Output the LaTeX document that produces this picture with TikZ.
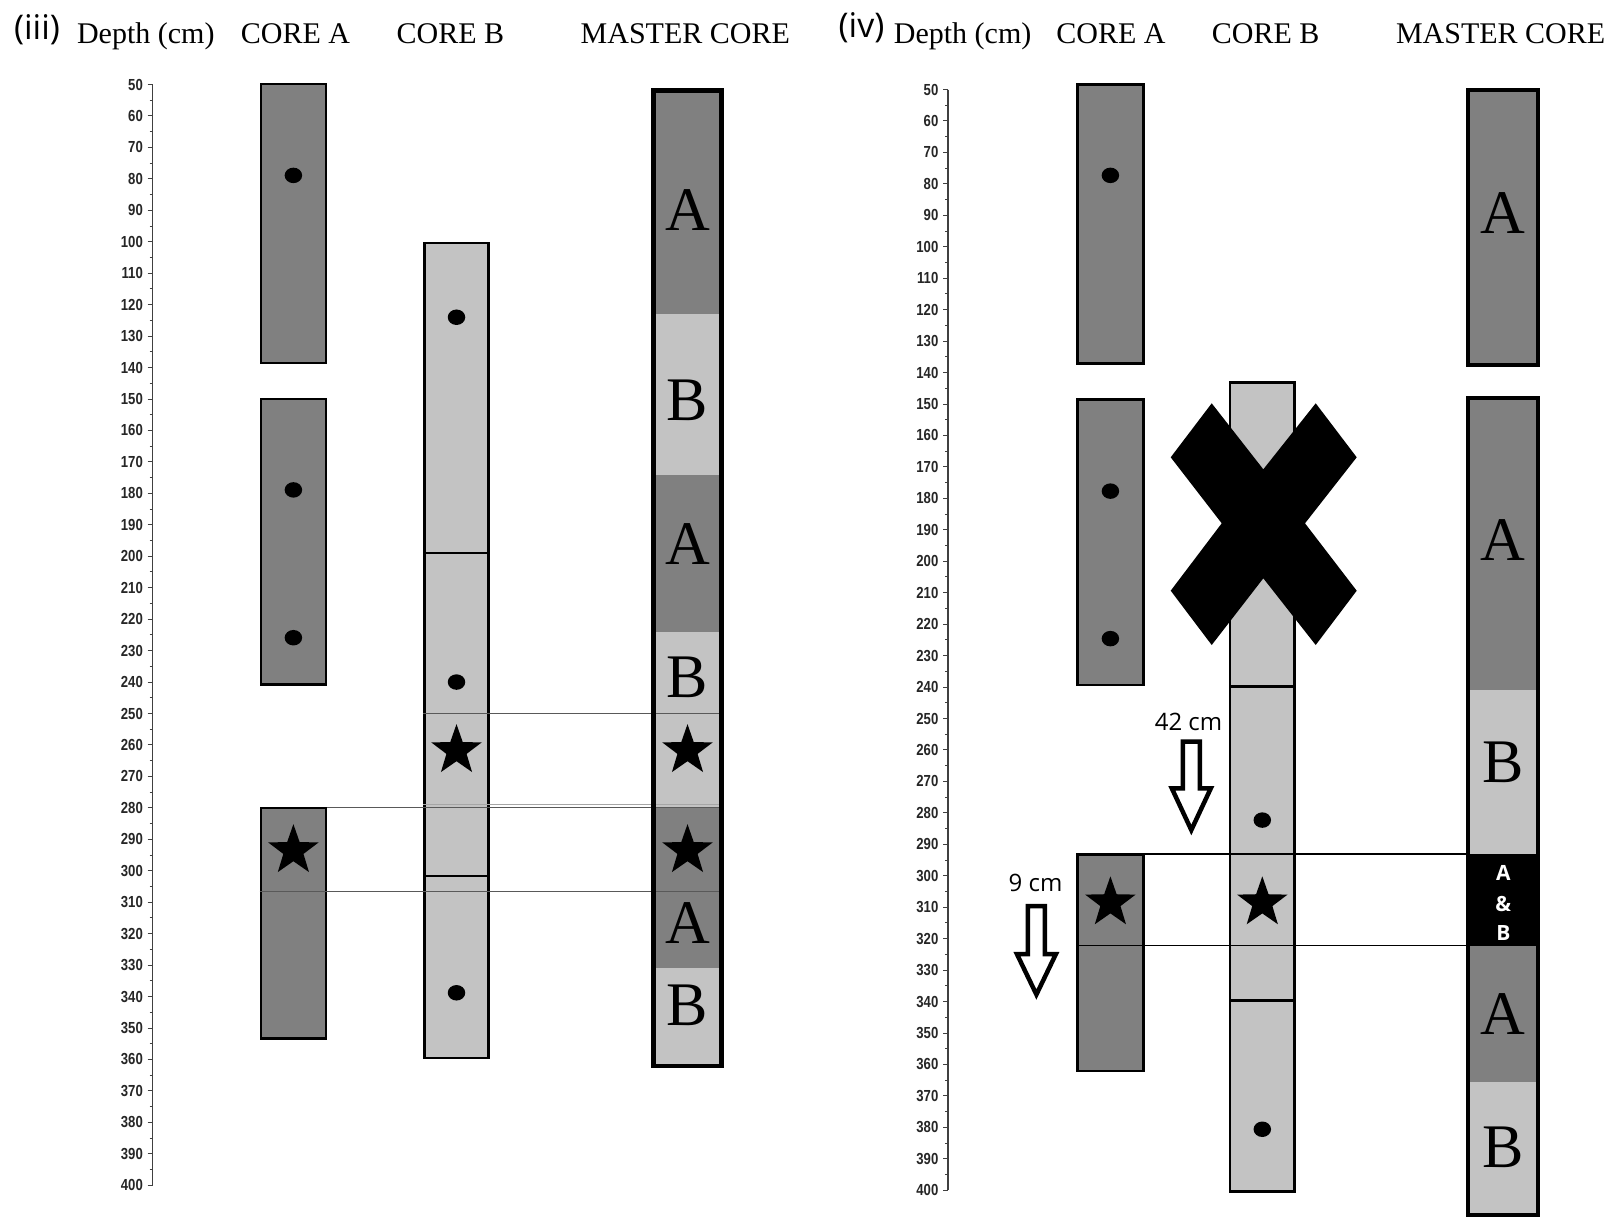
\documentclass[tikz,border=0pt]{standalone}
\usepackage{fontspec}
\setmainfont{Liberation Serif}
\newfontfamily\tickfont[FakeStretch=0.82, UprightFont={* Bold}]{Liberation Sans}
\newfontfamily\osans{Open Sans}
\usetikzlibrary{shapes.geometric}
\definecolor{darkc}{RGB}{128,128,128}
\definecolor{lightc}{RGB}{195,195,195}
\begin{document}
\begin{tikzpicture}[x=1pt,y=-1pt,
  hdr/.style={font=\fontsize{30}{36}\selectfont, anchor=base, inner sep=0pt},
  panellbl/.style={font=\osans\fontsize{34}{40}\selectfont, inner sep=0pt},
  ticklbl/.style={font=\tickfont\fontsize{16}{18}\selectfont, anchor=east, inner sep=0pt, text=black!85},
  corea/.style={draw=black, line width=2.6pt, fill=darkc},
  coreb/.style={draw=black, line width=2.6pt, fill=lightc},
  innerline/.style={draw=black, line width=2.4pt},
  masterframe/.style={draw=black, line width=4.5pt},
  dotmark/.style={ellipse, fill=black, minimum width=17.5pt, minimum height=15.5pt, inner sep=0pt},
  starmark/.style={star, star points=5, star point ratio=2.5, fill=black, minimum size=53pt, inner sep=0pt},
  bigletter/.style={font=\fontsize{62}{70}\selectfont, inner sep=0pt},
  abtext/.style={font=\osans\bfseries\fontsize{21}{24}\selectfont, text=white, inner sep=0pt},
  corrline/.style={line width=1.2pt, draw=black!65},
  corrlinelight/.style={line width=1.2pt, draw=black!35},
  corrlineb/.style={line width=1.6pt, draw=black},
  blockarrow/.style={draw=black, fill=white, line width=4.5pt, miter limit=10},
  cmlbl/.style={font=\osans\fontsize{24}{28}\selectfont, inner sep=0pt},
  axisline/.style={line width=1.2pt, draw=black!75},
  tickline/.style={line width=1pt, draw=black!75},
]
\useasboundingbox[fill=white] (0,0) rectangle (1616,1216);

% ---------------- headers ----------------
\node[panellbl] (p3) at (37,30) {(iii)};
\node[hdr] (h3d) at (145.8,43) {Depth (cm)};
\node[hdr] (h3a) at (295.5,43) {CORE A};
\node[hdr] (h3b) at (450.4,43) {CORE B};
\node[hdr] (h3m) at (685.3,43) {MASTER CORE};

\node[panellbl] (p4) at (861.5,28) {(iv)};
\node[hdr] (h4d) at (962.6,43) {Depth (cm)};
\node[hdr] (h4a) at (1111,43) {CORE A};
\node[hdr] (h4b) at (1265.6,43) {CORE B};
\node[hdr] (h4m) at (1500.6,43) {MASTER CORE};

% ---------------- panel (iii) ----------------
\begin{scope}[y=-3.145pt, yshift=72.75pt]
  % axis
  \draw[axisline] (152.5,50) -- (152.5,400);
  \foreach \d in {50,60,...,400} {
    \draw[tickline] (147.5,\d) -- (152.5,\d);
    \node[ticklbl] (t3-\d) at (143,\d) {\d};
  }
  \foreach \d in {55,65,...,395} \draw[tickline] (149.5,\d) -- (152.5,\d);

  % core A
  \draw[corea] (261,49.8) rectangle (326,138.5);
  \draw[corea] (261,150) rectangle (326,240.8);
  \draw[corea] (261,280) rectangle (326,353.4);

  % core B
  \draw[coreb] (424.6,100.4) rectangle (488.3,359.5);
  \draw[innerline] (424.6,199) -- (488.3,199);
  \draw[innerline] (424.6,301.6) -- (488.3,301.6);

  % master core fills
  \fill[darkc]  (653.5,51.9) rectangle (721.6,123);
  \fill[lightc] (653.5,123) rectangle (721.6,174.2);
  \fill[darkc]  (653.5,174.2) rectangle (721.6,224.2);
  \fill[lightc] (653.5,224.2) rectangle (721.6,279.7);
  \fill[darkc]  (653.5,279.7) rectangle (721.6,331);
  \fill[lightc] (653.5,331) rectangle (721.6,362.1);

  % correlation lines
  \draw[corrline] (423.3,250) -- (720.5,250);
  \draw[corrlinelight] (423.3,279.0) -- (720.5,279.0);
  \draw[corrline] (327.2,279.8) -- (720.5,279.8);
  \draw[corrline] (259.6,306.7) -- (720.5,306.7);

  \draw[masterframe] (653.5,51.9) rectangle (721.6,362.1);

  % dots
  \node[dotmark] (a3d1) at (293.4,78.9) {};
  \node[dotmark] (a3d2) at (293.4,178.9) {};
  \node[dotmark] (a3d3) at (293.4,225.9) {};
  \node[dotmark] (b3d1) at (456.5,124) {};
  \node[dotmark] (b3d2) at (456.5,240) {};
  \node[dotmark] (b3d3) at (456.5,338.8) {};

  % stars
  \node[starmark] (a3s) at (293.4,293.6) {};
  \node[starmark] (b3s) at (456.5,261.8) {};
  \node[starmark] (m3s1) at (687.5,261.8) {};
  \node[starmark] (m3s2) at (687.5,293.6) {};

  % master letters
  \node[bigletter] (m3l1) at (687.5,89.9) {A};
  \node[bigletter] (m3l2) at (687.5,150.3) {B};
  \node[bigletter] (m3l3) at (687.5,196) {A};
  \node[bigletter] (m3l4) at (687.5,238.6) {B};
  \node[bigletter] (m3l5) at (687.5,316.7) {A};
  \node[bigletter] (m3l6) at (687.5,342.7) {B};
\end{scope}

% ---------------- panel (iv) ----------------
\begin{scope}[y=-3.145pt, yshift=67.75pt]
  % axis
  \draw[axisline] (948,50) -- (948,400);
  \foreach \d in {50,60,...,400} {
    \draw[tickline] (943,\d) -- (948,\d);
    \node[ticklbl] (t4-\d) at (938.5,\d) {\d};
  }
  \foreach \d in {55,65,...,395} \draw[tickline] (945,\d) -- (948,\d);

  % core A
  \draw[corea] (1077.5,48.4) rectangle (1143.3,137.2);
  \draw[corea] (1077.5,148.6) rectangle (1143.3,239.4);
  \draw[corea] (1077.5,293.3) rectangle (1143.3,362.1);

  % core B
  \draw[coreb] (1230,143.1) rectangle (1294.6,400.4);
  \draw[innerline] (1230,239.8) -- (1294.6,239.8);
  \draw[innerline] (1230,339.7) -- (1294.6,339.7);

  % master core
  \draw[masterframe, fill=darkc] (1468,50.1) rectangle (1538.2,137.6);
  \fill[darkc]  (1468,148.1) rectangle (1538.2,240.8);
  \fill[lightc] (1468,240.8) rectangle (1538.2,293);
  \fill[black]  (1468,293) rectangle (1538.2,322.2);
  \fill[darkc]  (1468,322.2) rectangle (1538.2,365.5);
  \fill[lightc] (1468,365.5) rectangle (1538.2,407.8);
  \draw[masterframe] (1468,148.1) rectangle (1538.2,407.8);

  % correlation lines
  \draw[corrlineb] (1144.6,293) -- (1466,293);
  \draw[corrlineb] (1076.2,322.2) -- (1466,322.2);

  % dots
  \node[dotmark] (a4d1) at (1110.4,77.3) {};
  \node[dotmark] (a4d2) at (1110.4,177.7) {};
  \node[dotmark] (a4d3) at (1110.4,224.6) {};
  \node[dotmark] (b4d1) at (1262.3,282.3) {};
  \node[dotmark] (b4d2) at (1262.3,380.6) {};

  % stars
  \node[starmark] (a4s) at (1110.4,308.6) {};
  \node[starmark] (b4s) at (1262.3,308.6) {};

  % master letters
  \node[bigletter] (m4l1) at (1503.3,89.3) {A};
  \node[bigletter] (m4l2) at (1503.3,193.3) {A};
  \node[bigletter] (m4l3) at (1503.3,264) {B};
  \node[bigletter] (m4l4) at (1503.3,344) {A};
  \node[bigletter] (m4l5) at (1503.3,386.3) {B};
\end{scope}

% A & B text in black band
\node[abtext] (ab1) at (1503.3,873.3) {A};
\node[abtext] (ab2) at (1503.3,903.5) {\&};
\node[abtext] (ab3) at (1503.3,933.3) {B};

% big X over core B
\fill[black] (1211.7,403.3) -- (1263.3,469.3) -- (1315.7,403.3) -- (1356.7,457.3)
  -- (1305,523.3) -- (1356.7,590.7) -- (1315.7,645) -- (1263.3,578.3)
  -- (1211.7,645) -- (1170.7,590.7) -- (1221.7,523.3) -- (1170.7,457.3) -- cycle;

% shift arrows
\node[cmlbl] (l42) at (1188.5,721.7) {42 cm};
\draw[blockarrow] (1182.8,741.5) -- (1199.8,741.5) -- (1199.8,788.3) -- (1210.8,788.3)
  -- (1191.3,830) -- (1171.8,788.3) -- (1182.8,788.3) -- cycle;

\node[cmlbl] (l9) at (1035.5,882.7) {9 cm};
\draw[blockarrow] (1027.9,906) -- (1044.9,906) -- (1044.9,954) -- (1055.9,954)
  -- (1036.4,994.5) -- (1016.9,954) -- (1027.9,954) -- cycle;
\end{tikzpicture}
\end{document}
